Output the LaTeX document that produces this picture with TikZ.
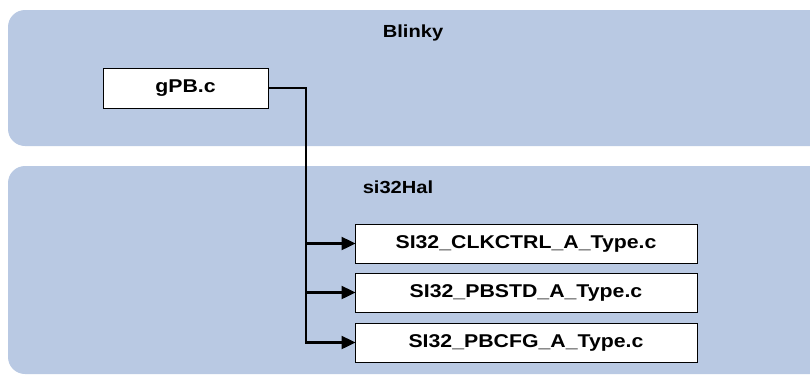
\documentclass[tikz,border=0pt]{standalone}
\usepackage{fontspec}
\setmainfont{Liberation Sans}
\newfontfamily\widesans[FakeStretch=1.15]{Liberation Sans}
\usetikzlibrary{arrows.meta}
\definecolor{panelblue}{RGB}{185,201,227}
\tikzset{
  panel/.style={fill=panelblue, draw=none, rounded corners=17pt},
  panellabel/.style={font=\widesans\bfseries\fontsize{17.5}{20}\selectfont, inner sep=0pt},
  filebox/.style={draw=black, line width=1pt, fill=white, inner sep=0pt,
    font=\widesans\bfseries\fontsize{18.5}{22}\selectfont},
  link/.style={line width=2.4pt, draw=black},
  linkarrow/.style={link, -{Triangle[length=14pt,width=13pt]}, shorten >=-1pt}
}
\begin{document}
\begin{tikzpicture}[x=1pt,y=-1pt]
  \useasboundingbox (0,0) rectangle (810,375);
  \clip (0,0) rectangle (810,375);
  % the two layers
  \path[panel] (8,10) rectangle (840,146);
  \path[panel] (8,166) rectangle (840,374);
  \node[panellabel] (blinky) at (413,33) {Blinky};
  \node[panellabel] (hal) at (398,187) {si32Hal};
  % source files
  \node[filebox, minimum width=165pt, minimum height=40pt] (gpb) at (185.5,88) {gPB.c};
  \node[filebox, minimum width=342pt, minimum height=39pt] (clk) at (526,243.5) {SI32\_CLKCTRL\_A\_Type.c};
  \node[filebox, minimum width=342pt, minimum height=39pt] (std) at (526,292.5) {SI32\_PBSTD\_A\_Type.c};
  \node[filebox, minimum width=342pt, minimum height=39pt] (cfg) at (526,342.5) {SI32\_PBCFG\_A\_Type.c};
  % dependencies
  \coordinate (bus) at (306,88);
  \draw[link] (gpb.east) -- (bus) -- ([yshift=-1.2pt]bus |- cfg.west);
  \draw[linkarrow] (bus |- clk.west) -- (clk.west);
  \draw[linkarrow] (bus |- std.west) -- (std.west);
  \draw[linkarrow] (bus |- cfg.west) -- (cfg.west);
\end{tikzpicture}
\end{document}
